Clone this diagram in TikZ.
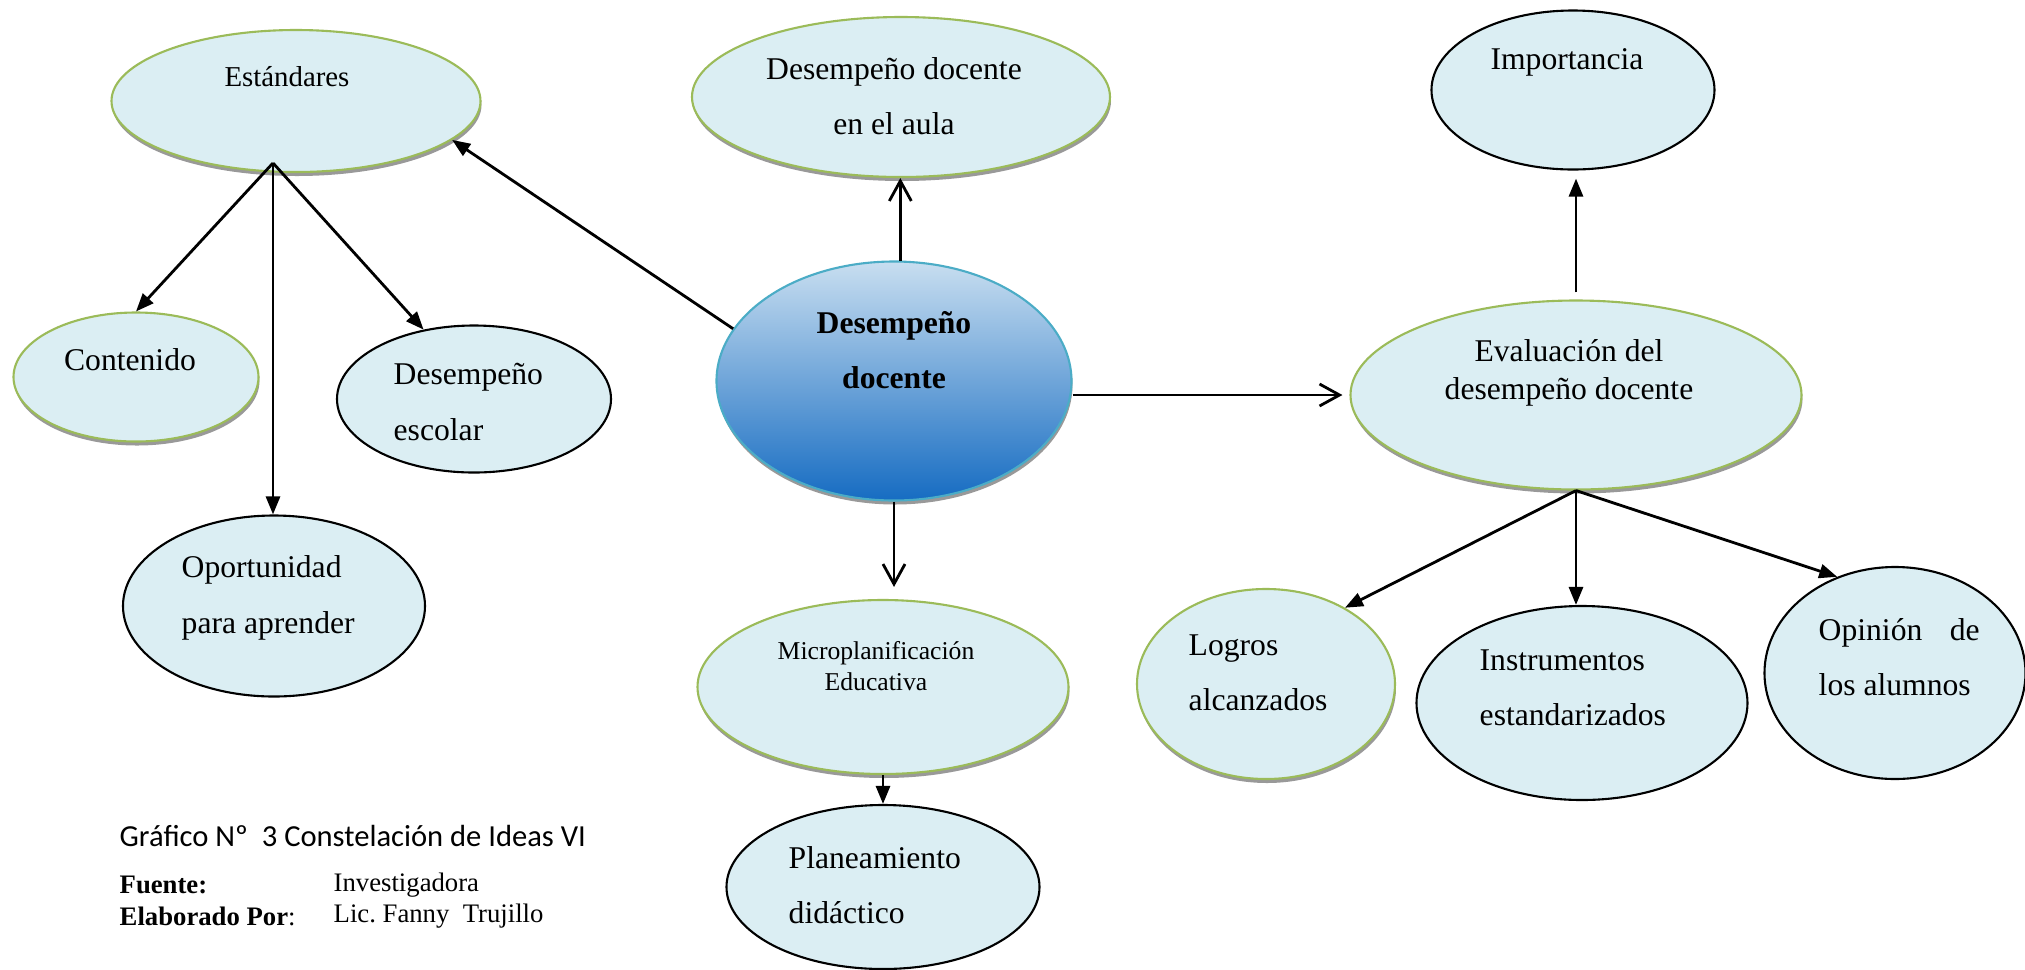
\documentclass[tikz,border=0pt]{standalone}
\usepackage{fontspec}
\setmainfont{Liberation Serif}
\newfontfamily\captionfont{Carlito}
\usetikzlibrary{arrows.meta,shapes.geometric,shadows}
\definecolor{ideafill}{RGB}{219,238,243}
\definecolor{ideagreen}{RGB}{155,187,89}
\definecolor{coretop}{RGB}{200,222,240}
\definecolor{corebottom}{RGB}{22,108,194}
\definecolor{coreline}{RGB}{75,172,198}
\tikzset{
    idea/.style={
            ellipse, draw=ideagreen, line width=0.6pt, fill=ideafill,
            drop shadow={shadow xshift=0.01cm, shadow yshift=-0.04cm, fill=black!40, opacity=1}
        },
    plainidea/.style={ellipse, draw=black, line width=0.6pt, fill=ideafill},
    core/.style={
            ellipse, draw=coreline, line width=0.6pt, top color=coretop, bottom color=corebottom,
            drop shadow={shadow xshift=0.01cm, shadow yshift=-0.04cm, fill=black!40, opacity=1}
        },
    txt/.style={inner sep=0pt, font=\fontsize{9}{15.8}\selectfont},
    fillarrow/.style={thick, -{Triangle[length=0.18cm, width=0.14cm]}},
    openarrow/.style={thick, -{Straight Barb[length=0.2cm, width=0.22cm]}},
}

\begin{document}
\begin{tikzpicture}
        \useasboundingbox (0, 0) rectangle (20.25, -9.69);
        %draw ellipses
        \node[idea, minimum width=3.69cm, minimum height=1.42cm] (estandares) at (2.96, -1.01) {};
        \node[idea, minimum width=4.18cm, minimum height=1.60cm] (aula) at (9.01, -0.97) {};
        \node[plainidea, minimum width=2.83cm, minimum height=1.59cm] (importancia) at (15.73, -0.90) {};
        \node[idea, minimum width=2.45cm, minimum height=1.29cm] (contenido) at (1.36, -3.77) {};
        \node[plainidea, minimum width=2.74cm, minimum height=1.47cm] (escolar) at (4.74, -3.99) {};
        \node[core, minimum width=3.55cm, minimum height=2.39cm] (central) at (8.94, -3.81) {};
        \node[idea, minimum width=4.51cm, minimum height=1.89cm] (evaluacion) at (15.76, -3.95) {};
        \node[plainidea, minimum width=3.02cm, minimum height=1.81cm] (oportunidad) at (2.74, -6.06) {};
        \node[idea, minimum width=3.71cm, minimum height=1.74cm] (micro) at (8.83, -6.87) {};
        \node[plainidea, minimum width=3.13cm, minimum height=1.64cm] (planeamiento) at (8.83, -8.87) {};
        \node[idea, minimum width=2.58cm, minimum height=1.90cm] (logros) at (12.66, -6.84) {};
        \node[plainidea, minimum width=3.31cm, minimum height=1.94cm] (instrumentos) at (15.82, -7.03) {};
        \node[plainidea, minimum width=2.61cm, minimum height=2.12cm] (opinion) at (18.95, -6.73) {};
        %label ellipses
        \node[txt, font=\fontsize{8.2}{15.8}\selectfont] (estandares-t) at (2.87, -0.77) {Estándares};
        \node[txt, align=center] (aula-t) at (8.94, -0.96) {Desempeño docente\\en el aula};
        \node[txt] (importancia-t) at (15.67, -0.62) {Importancia};
        \node[txt] (contenido-t) at (1.30, -3.60) {Contenido};
        \node[txt, align=left, anchor=west] (escolar-t) at (3.93, -4.02) {Desempeño\\escolar};
        \node[txt, align=center, font=\fontsize{9}{15.8}\selectfont\bfseries] (central-t) at (8.94, -3.50) {Desempeño\\docente};
        \node[txt, align=center, font=\fontsize{9}{11}\selectfont] (evaluacion-t) at (15.69, -3.73) {Evaluación del\\desempeño docente};
        \node[txt, align=left, anchor=west] (oportunidad-t) at (1.81, -5.98) {Oportunidad\\para aprender};
        \node[txt, align=center, font=\fontsize{7.3}{8.8}\selectfont] (micro-t) at (8.76, -6.66) {Microplanificación\\Educativa};
        \node[txt, align=left, anchor=west] (planeamiento-t) at (7.88, -8.85) {Planeamiento\\didáctico};
        \node[txt, align=left, anchor=west] (logros-t) at (11.88, -6.73) {Logros\\alcanzados};
        \node[txt, align=left, anchor=west] (instrumentos-t) at (14.79, -6.88) {Instrumentos\\estandarizados};
        \node[txt, align=left, anchor=west] (opinion-t) at (18.18, -6.57) {\makebox[1.61cm][s]{Opinión de}\\los alumnos};
        %draw arrows
        \coordinate (estandares-pt) at (2.73, -1.63);
        \draw[fillarrow] (estandares-pt) -- (contenido.north);
        \draw[fillarrow] (estandares-pt) -- (estandares-pt |- oportunidad.north);
        \draw[fillarrow] (estandares-pt) -- (escolar.126);
        \draw[fillarrow] (central.162) -- (estandares.346);
        \draw[openarrow] (central.87) -- (central.87 |- aula.south);
        \draw[openarrow, shorten >=0.07cm] (central.east |- evaluacion.west) -- (evaluacion.west);
        \draw[openarrow, shorten >=0.12cm] (central.south) -- (central.south |- micro.north);
        \draw[fillarrow] (micro.south) -- (planeamiento.north);
        \draw[fillarrow, shorten <=0.07cm, shorten >=0.08cm] (evaluacion.north) -- (evaluacion.north |- importancia.south);
        \draw[fillarrow] (evaluacion.south) -- (logros.44);
        \draw[fillarrow] (evaluacion.south) -- (evaluacion.south |- instrumentos.north);
        \draw[fillarrow] (evaluacion.south) -- (opinion.121);
        %caption
        \node[inner sep=0pt, anchor=west, font=\captionfont\fontsize{8.7}{10}\selectfont] (grafico) at (1.19, -8.36) {Gráfico Nº~ 3 Constelación de Ideas VI};
        \node[inner sep=0pt, anchor=west, font=\fontsize{7.6}{8.8}\selectfont\bfseries] (fuente) at (1.19, -8.85) {Fuente:};
        \node[inner sep=0pt, anchor=west, font=\fontsize{7.6}{8.8}\selectfont] (fuente-v) at (3.33, -8.85) {Investigadora};
        \node[inner sep=0pt, anchor=west, font=\fontsize{7.6}{8.8}\selectfont] (autor) at (1.19, -9.16) {\textbf{Elaborado Por}:};
        \node[inner sep=0pt, anchor=west, font=\fontsize{7.6}{8.8}\selectfont] (autor-v) at (3.33, -9.16) {Lic.\ Fanny~ Trujillo};
    \end{tikzpicture}
\end{document}
